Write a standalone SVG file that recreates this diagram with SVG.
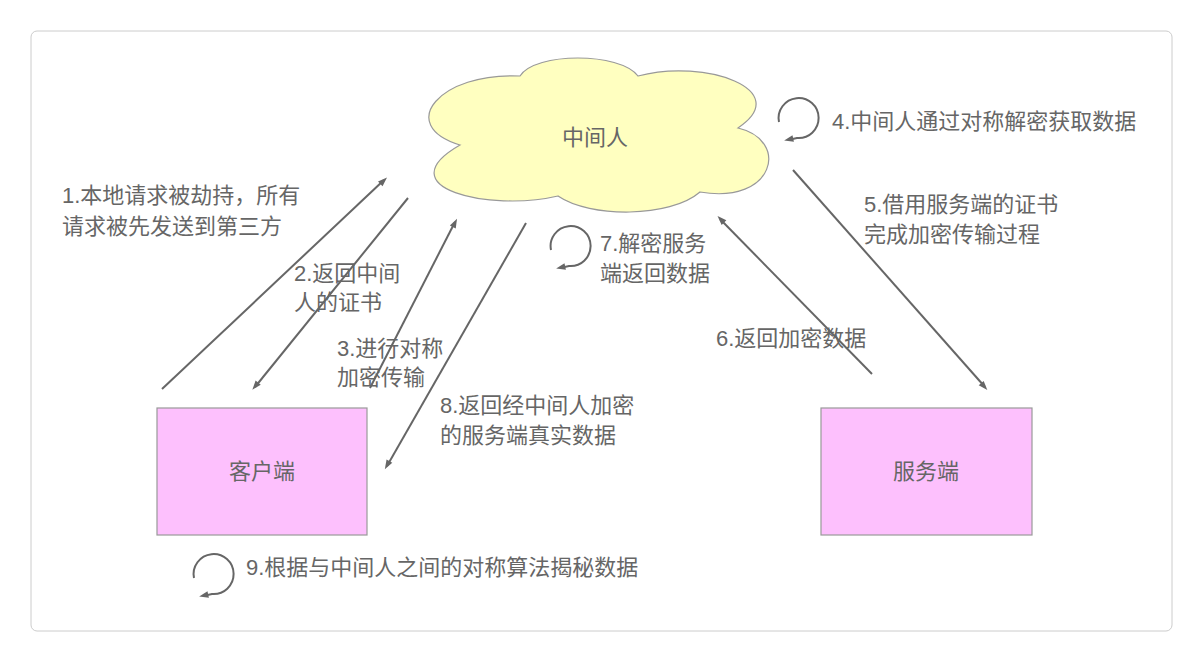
<svg xmlns="http://www.w3.org/2000/svg" width="1203" height="662" viewBox="0 0 1203 662">
<style>
text{font-family:"Liberation Sans","Noto Sans CJK SC",sans-serif;font-size:22px;fill:#666}
.c{stroke:#666;stroke-width:2;fill:none}
.box{fill:#fdc0fd;stroke:#999;stroke-width:1.2}
</style>
<defs>
<marker id="ah" viewBox="0 0 10 10" refX="9" refY="5" markerWidth="6" markerHeight="6" markerUnits="userSpaceOnUse" orient="auto" style="overflow:visible">
<path d="M0,0 L14,5 L0,10 Z" fill="#666" transform="scale(1.1)"/>
</marker>
</defs>
<rect x="31" y="31" width="1141" height="600" rx="6" fill="#fff" stroke="#ccc"/>
<g id="mitm">
<path d="M460,145 C395,125 440,72 520,76 C535,52 620,52 638,76 C705,58 795,90 738,128 C790,140 775,205 700,192 C670,218 590,218 558,196 C490,212 385,188 460,145 Z" fill="#ffffc0" stroke="#999" stroke-width="1.2"/>
<text x="595" y="145" text-anchor="middle">中间人</text>
</g>
<g id="client"><rect class="box" x="157" y="408" width="210" height="127"/><text x="262" y="479" text-anchor="middle">客户端</text></g>
<g id="server"><rect class="box" x="821" y="408" width="211" height="127"/><text x="926" y="479" text-anchor="middle">服务端</text></g>
<g id="connectors">
<path class="c" marker-end="url(#ah)" d="M162,389 L384,180"/>
<path class="c" marker-end="url(#ah)" d="M408,198 L255,387"/>
<path class="c" marker-end="url(#ah)" d="M370,388 L455,222"/>
<path class="c" marker-end="url(#ah)" d="M526,223 L387,466"/>
<path class="c" marker-end="url(#ah)" d="M793,170 L985,387"/>
<path class="c" marker-end="url(#ah)" d="M872,374 L720,219"/>
<path class="c" marker-end="url(#ah)" d="M194,578 A20,20 0 1 1 212,594 L203,596"/>
<path class="c" marker-end="url(#ah)" d="M779,122 A20,20 0 1 1 797,138 L788,140"/>
<path class="c" marker-end="url(#ah)" d="M551,250 A20,20 0 1 1 569,266 L560,268"/>
</g>
<g id="labels">
<text x="62" y="203">1.本地请求被劫持，所有</text>
<text x="62" y="234">请求被先发送到第三方</text>
<text x="294" y="281">2.返回中间</text>
<text x="294" y="310">人的证书</text>
<text x="337" y="356">3.进行对称</text>
<text x="337" y="385">加密传输</text>
<text x="440" y="413">8.返回经中间人加密</text>
<text x="440" y="443">的服务端真实数据</text>
<text x="600" y="251">7.解密服务</text>
<text x="600" y="281">端返回数据</text>
<text x="832" y="129">4.中间人通过对称解密获取数据</text>
<text x="864" y="212">5.借用服务端的证书</text>
<text x="864" y="242">完成加密传输过程</text>
<text x="716" y="346">6.返回加密数据</text>
<text x="246" y="575">9.根据与中间人之间的对称算法揭秘数据</text>
</g>
</svg>
